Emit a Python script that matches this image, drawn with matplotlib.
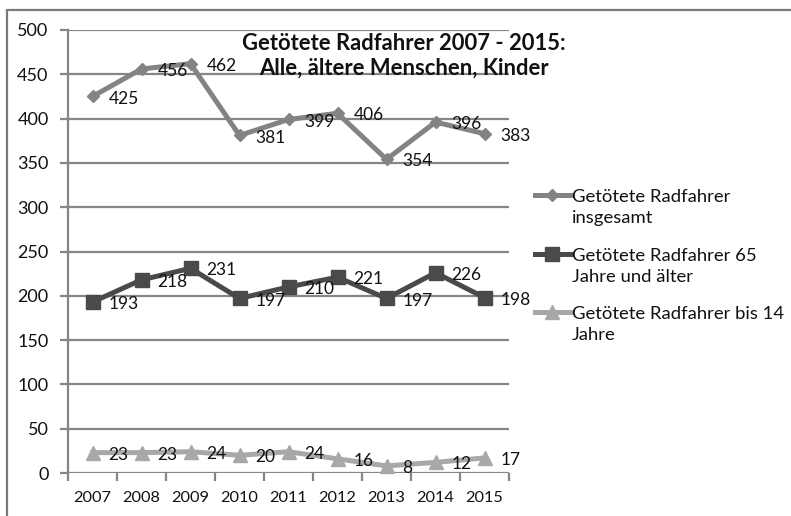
import matplotlib
matplotlib.use("Agg")
import matplotlib.pyplot as plt
from matplotlib.lines import Line2D

plt.rcParams['font.family'] = ['Lato', 'DejaVu Sans']

years = ["2007", "2008", "2009", "2010", "2011", "2012", "2013", "2014", "2015"]
total = [425, 456, 462, 381, 399, 406, 354, 396, 383]
senior = [193, 218, 231, 197, 210, 221, 197, 226, 198]
children = [23, 23, 24, 20, 24, 16, 8, 12, 17]
series_names = ["Getötete Radfahrer\ninsgesamt",
                "Getötete Radfahrer 65\nJahre und älter",
                "Getötete Radfahrer bis 14\nJahre"]
title = "Getötete Radfahrer 2007 - 2015:\nAlle, ältere Menschen, Kinder"
yticks = [0, 50, 100, 150, 200, 250, 300, 350, 400, 450, 500]

W, H = 791, 516
fig = plt.figure(figsize=(W / 100, H / 100), dpi=100)
fig.patch.set_facecolor("white")

def fx(px):
    return px / W

def fy(py):
    return 1 - py / H

ax = fig.add_axes([fx(68), fy(473), fx(509) - fx(68), fy(30) - fy(473)])
ax.set_facecolor("white")

grid_c = "#868686"
txt_c = "#111111"
for s in ["top", "right", "bottom"]:
    ax.spines[s].set_visible(False)
ax.spines["left"].set_color(grid_c)
ax.spines["left"].set_linewidth(1.6)

n = len(years)
xs = [i + 0.5 for i in range(n)]
ax.set_xlim(0, n)
ax.set_ylim(0, 500)
ax.set_yticks(yticks)
ax.set_yticklabels([str(v) for v in yticks])
for v in yticks:
    ax.axhline(v, color=grid_c, lw=1.6, zorder=1)
ax.set_xticks(range(n + 1))
ax.set_xticklabels([])
ax.set_xticks(xs, minor=True)
ax.set_xticklabels(years, minor=True)
ax.tick_params(axis="x", which="major", length=6, width=1.6, color=grid_c, direction="out")
ax.tick_params(axis="x", which="minor", length=0, pad=13, labelsize=11.8, labelcolor=txt_c)
ax.tick_params(axis="y", length=6, width=1.6, color=grid_c, pad=8, labelsize=13, labelcolor=txt_c)

styles = [
    (total, "#838383", "D", 6.5),
    (senior, "#4a4a4a", "s", 9.5),
    (children, "#a8a8a8", "^", 10),
]
for vals, col, mk, ms in styles:
    ax.plot(xs, vals, color=col, lw=3.6, marker=mk, markersize=ms, zorder=3, clip_on=False)
    for x, v in zip(xs, vals):
        ax.annotate(str(v), (x, v), xytext=(11.5, -1.5), textcoords="offset points",
                    ha="left", va="center", fontsize=12.5, color=txt_c, zorder=4)

fig.text(fx(404), fy(56), title, ha="center", va="center", fontsize=15.8,
         fontweight="bold", color=txt_c, linespacing=1.2)

# legend
leg_y = [195, 254, 312]
for (vals, col, mk, ms), name, y in zip(styles, series_names, leg_y):
    ln = Line2D([fx(535), fx(552), fx(570)], [fy(y)] * 3, transform=fig.transFigure,
                color=col, lw=3.6, marker=mk, markersize=ms, markevery=[1])
    fig.add_artist(ln)
    fig.text(fx(572), fy(y + 12.5), name, ha="left", va="center", fontsize=13.3,
             color=txt_c, linespacing=1.35)

# outer chart border (cropped at right and bottom)
fig.add_artist(Line2D([fx(7), fx(7), 1.0], [0, fy(10), fy(10)], transform=fig.transFigure,
                      color="#7a7a7a", lw=1.6))

fig.savefig("out.png", dpi=100)
